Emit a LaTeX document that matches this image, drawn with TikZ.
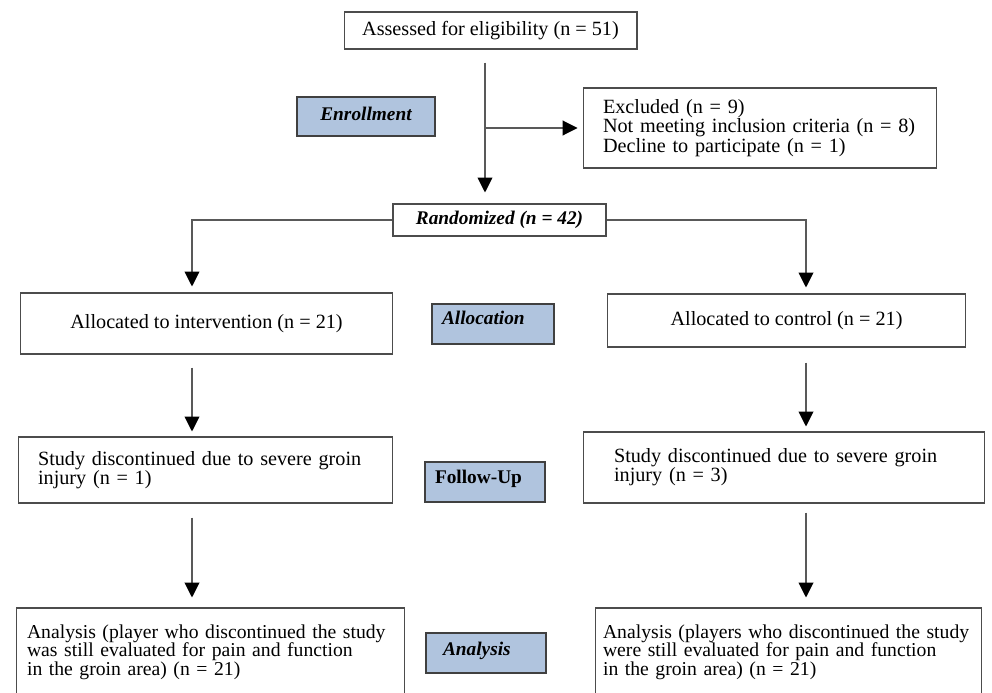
\documentclass[tikz,border=0pt]{standalone}
\usepackage{fontspec}
\setmainfont{Liberation Serif}
\usetikzlibrary{arrows.meta,positioning}
\definecolor{stageblue}{RGB}{176,196,222}

\begin{document}
\begin{tikzpicture}[x=0.02cm,y=-0.02cm,
  box/.style={draw=black!70,line width=0.6pt,font=\fontsize{11.5}{11}\selectfont},
  leftbox/.style={box,align=left},
  stage/.style={draw=black!75,fill=stageblue,line width=1pt,font=\bfseries\itshape\fontsize{11}{11}\selectfont},
  arr/.style={draw=black!65,line width=0.6pt,-{Triangle[length=8.5pt,width=8.5pt,color=black]}}]
\useasboundingbox (0,0) rectangle (992,693);

\node[box,minimum width=5.86cm,minimum height=0.74cm] (1-1) at (490.5,30.5) {Assessed for eligibility (n = 51)};
\node[leftbox,minimum height=1.6cm,inner xsep=0.4cm,text width=6.28cm] (1-2) at (760,128) {Excluded (n = 9)\\Not meeting inclusion criteria (n = 8)\\Decline to participate (n = 1)};
\node[box,minimum width=4.26cm,minimum height=0.64cm,font=\bfseries\itshape\fontsize{11}{11}\selectfont] (2-1) at (499.5,220) {Randomized (n = 42)};
\node[box,minimum width=7.46cm,minimum height=1.22cm] (3-1) at (206.5,323.5) {Allocated to intervention (n = 21)};
\node[box,minimum width=7.18cm,minimum height=1.06cm] (3-2) at (786.5,320.5) {Allocated to control (n = 21)};
\node[leftbox,minimum height=1.32cm,inner xsep=0.4cm,text width=6.7cm] (4-1) at (205.5,470) {Study discontinued due to severe groin\\injury (n = 1)};
\node[leftbox,minimum height=1.42cm,inner xsep=0.62cm,text width=6.8cm] (4-2) at (784,467.5) {Study discontinued due to severe groin\\injury (n = 3)};
\node[leftbox,minimum height=1.76cm,inner xsep=0.22cm,text width=7.34cm,font=\fontsize{11.2}{10.6}\selectfont] (5-1) at (210.5,652) {Analysis (player who discontinued the study\\was still evaluated for pain and function\\in the groin area) (n = 21)};
\node[leftbox,minimum height=1.76cm,inner xsep=0.16cm,text width=7.42cm,font=\fontsize{11.2}{10.6}\selectfont] (5-2) at (788.5,652) {Analysis (players who discontinued the study\\were still evaluated for pain and function\\in the groin area) (n = 21)};

\node[stage,minimum width=2.76cm,minimum height=0.78cm,text depth=3.4pt] (s-1) at (366,116.5) {Enrollment};
\node[stage,minimum height=0.8cm,inner xsep=0.2cm,text width=2.04cm,align=left,text depth=6.8pt] (s-2) at (493,324) {Allocation};
\node[stage,minimum height=0.8cm,inner xsep=0.2cm,text width=2cm,align=left,text depth=5.6pt,font=\bfseries\fontsize{11}{11}\selectfont] (s-3) at (485,482) {Follow-Up};
\node[stage,minimum height=0.8cm,inner xsep=0.34cm,text width=1.72cm,align=left,text depth=5pt] (s-4) at (486,653) {Analysis};

\coordinate (c-m) at (485,0);
\coordinate (c-l) at (192,0);
\coordinate (c-r) at (806,0);

\draw[arr,shorten <=0.26cm,shorten >=0.22cm] (1-1.south -| c-m) -- (2-1.north -| c-m);
\draw[arr,shorten >=0.1cm] (c-m |- 1-2.west) -- (1-2.west);
\draw[arr,shorten >=0.12cm] (2-1.west) -| (3-1.north -| c-l);
\draw[arr,shorten >=0.12cm] (2-1.east) -| (3-2.north -| c-r);
\draw[arr,shorten <=0.26cm,shorten >=0.1cm] (3-1.south -| c-l) -- (4-1.north -| c-l);
\draw[arr,shorten <=0.3cm,shorten >=0.1cm] (3-2.south -| c-r) -- (4-2.north -| c-r);
\draw[arr,shorten <=0.28cm,shorten >=0.2cm] (4-1.south -| c-l) -- (5-1.north -| c-l);
\draw[arr,shorten <=0.18cm,shorten >=0.2cm] (4-2.south -| c-r) -- (5-2.north -| c-r);
\end{tikzpicture}
\end{document}
